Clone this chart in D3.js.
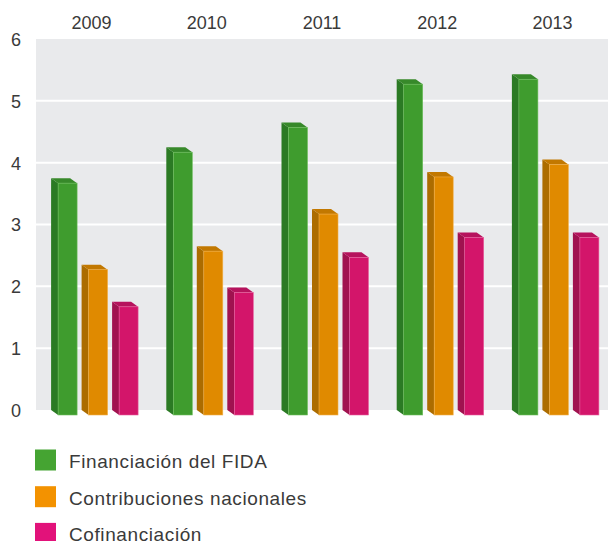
<!DOCTYPE html>
<html>
<head>
<meta charset="utf-8">
<script src="https://cdn.jsdelivr.net/npm/d3@7"></script>
<style>
  html, body { margin: 0; padding: 0; background: #fff; }
  svg text { font-family: 'Liberation Sans', Arial, sans-serif; fill: #3a3a3a; }
</style>
</head>
<body>
<div id="container"></div>
<script>
/* DATA */
var years = ['2009', '2010', '2011', '2012', '2013']
var series = ['Financiación del FIDA', 'Contribuciones nacionales', 'Cofinanciación']
var fida = [3.75, 4.25, 4.65, 5.35, 5.43]
var nacionales = [2.35, 2.65, 3.25, 3.85, 4.05]
var cofin = [1.75, 1.98, 2.55, 2.87, 2.87]
var yTicks = [0, 1, 2, 3, 4, 5, 6]

/* STYLES (front, side, top, legend) */
var colors = [
  { front: '#3f9c2e', side: '#2b7a24', top: '#37892a', legend: '#45a432', edge: '#6fbf5e' },
  { front: '#e08a00', side: '#ac6c00', top: '#c27800', legend: '#f39200', edge: '#f2b04a' },
  { front: '#d3156a', side: '#a0124f', top: '#b6135d', legend: '#e2127a', edge: '#e8609d' }
]

var width = 608
var height = 541
var plot = { left: 36, right: 608, top: 39, bottom: 410 }
var dx = 7, dy = 5  // 3d depth of the bars

var svg = d3.select('#container')
  .append('svg')
  .attr('width', width)
  .attr('height', height)

var values = [fida, nacionales, cofin]
var rows = []
years.forEach(function (yr, i) {
  series.forEach(function (s, j) {
    rows.push({ year: yr, serie: j, value: values[j][i] })
  })
})

var y = d3.scaleLinear().domain([0, 6]).range([plot.bottom, plot.top])
var x0 = d3.scaleBand().domain(years).range([37, 613]).padding(0)
var groupW = 87
var x1 = d3.scaleBand().domain(d3.range(series.length)).range([0, groupW]).paddingInner(0.1475).paddingOuter(0)

// background
svg.append('rect')
  .attr('x', plot.left)
  .attr('y', plot.top)
  .attr('width', plot.right - plot.left)
  .attr('height', plot.bottom - plot.top)
  .attr('fill', '#e9eaec')

// gridlines
svg.append('g')
  .selectAll('line')
  .data(yTicks.filter(function (t) { return t > 0 && t < 6 }))
  .enter()
  .append('line')
  .attr('x1', plot.left)
  .attr('x2', plot.right)
  .attr('y1', function (d) { return y(d) })
  .attr('y2', function (d) { return y(d) })
  .attr('stroke', '#ffffff')
  .attr('stroke-width', 2)

// y axis labels
var yAxis = svg.append('g')
  .attr('transform', 'translate(' + plot.left + ',0)')
  .call(d3.axisLeft(y).tickValues(yTicks).tickSize(0).tickPadding(0).tickFormat(d3.format('d')))
yAxis.select('.domain').remove()
yAxis.selectAll('text')
  .attr('x', -20)
  .attr('dy', '0.36em')
  .attr('text-anchor', 'middle')
  .style('font-size', '18px')
  .style('font-family', "'Liberation Sans', Arial, sans-serif")
  .style('fill', '#3a3a3a')

// year labels
svg.append('g')
  .selectAll('text')
  .data(years)
  .enter()
  .append('text')
  .attr('x', function (d) { return x0(d) + x0.bandwidth() / 2 - 3 })
  .attr('y', 29)
  .attr('text-anchor', 'middle')
  .style('font-size', '18px')
  .text(function (d) { return d })

// bars
var off = (x0.bandwidth() - groupW) / 2
var bars = svg.append('g')
  .selectAll('g')
  .data(rows)
  .enter()
  .append('g')

function bx(d) { return x0(d.year) + off + x1(d.serie) }
var fw = x1.bandwidth() - dx

// side face
bars.append('path')
  .attr('d', function (d) {
    var xs = bx(d), yt = y(d.value), yb = y(0)
    return 'M' + xs + ',' + yt + 'L' + (xs + dx) + ',' + (yt + dy) +
      'L' + (xs + dx) + ',' + (yb + dy) + 'L' + xs + ',' + yb + 'Z'
  })
  .attr('fill', function (d) { return colors[d.serie].side })

// top face
bars.append('path')
  .attr('d', function (d) {
    var xs = bx(d), yt = y(d.value)
    return 'M' + xs + ',' + yt + 'L' + (xs + fw) + ',' + yt +
      'L' + (xs + fw + dx) + ',' + (yt + dy) + 'L' + (xs + dx) + ',' + (yt + dy) + 'Z'
  })
  .attr('fill', function (d) { return colors[d.serie].top })

// front face
bars.append('rect')
  .attr('x', function (d) { return bx(d) + dx })
  .attr('y', function (d) { return y(d.value) + dy })
  .attr('width', fw)
  .attr('height', function (d) { return y(0) - y(d.value) })
  .attr('fill', function (d) { return colors[d.serie].front })
  .attr('stroke', function (d) { return colors[d.serie].edge })
  .attr('stroke-width', 0.6)

// legend
var legend = svg.append('g')
  .selectAll('g')
  .data(series)
  .enter()
  .append('g')
  .attr('transform', function (d, i) { return 'translate(35,' + (449.5 + i * 36.7) + ')' })

legend.append('rect')
  .attr('width', 21)
  .attr('height', 21)
  .attr('fill', function (d, i) { return colors[i].legend })

legend.append('text')
  .attr('x', 34)
  .attr('y', 18.5)
  .style('font-size', '19px')
  .style('letter-spacing', '0.6px')
  .text(function (d) { return d })
</script>
</body>
</html>
